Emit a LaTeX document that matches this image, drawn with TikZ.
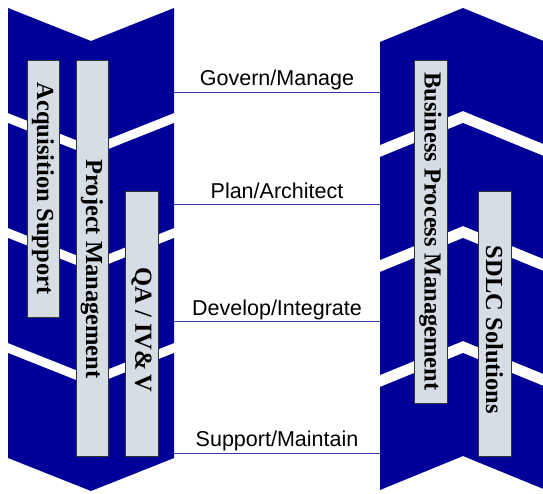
\documentclass[tikz,border=0pt]{standalone}
\usepackage{fontspec}
\setmainfont{Liberation Serif}
\newfontfamily\labelfont{Liberation Sans}
\definecolor{navy}{HTML}{000099}
\definecolor{linkblue}{HTML}{3838A8}
\definecolor{boxfill}{HTML}{D6DDE5}
\definecolor{boxline}{HTML}{333333}
\tikzset{
  chev/.style={fill=navy, draw=none},
  bar/.style={draw=boxline, line width=1pt, fill=boxfill, inner sep=0pt, rotate=-90,
    font=\fontsize{24.5}{26}\selectfont\bfseries, text=black},
  link/.style={draw=linkblue, line width=0.9pt},
  lab/.style={font=\labelfont\fontsize{21.5}{24}\selectfont, anchor=base, inner sep=0pt, text=black}
}
\begin{document}
\begin{tikzpicture}[x=1pt,y=-1pt]
\useasboundingbox (0,0) rectangle (543,493);
\clip (0,0) rectangle (543,493);
% left column: chevrons pointing down
\foreach \i in {0,1,2,3}{
  \pgfmathsetmacro{\t}{8+115*\i}
  \fill[chev] (8,\t) -- (91,\t+33) -- (174,\t) -- (174,\t+105) -- (91,\t+138) -- (8,\t+105) -- cycle;
}
% right column: chevrons pointing up
\foreach \i in {0,1,2,3}{
  \pgfmathsetmacro{\t}{42+115*\i}
  \fill[chev] (380,\t) -- (463,\t-34) -- (546,\t) -- (546,\t+103) -- (463,\t+69) -- (380,\t+103) -- cycle;
}
% bars
\node[bar, minimum width=257, minimum height=32] (acq) at (43,188.5) {Acquisition Support};
\node[bar, minimum width=396, minimum height=32] (pm) at (92,258) {\hspace*{22pt}Project Management};
\node[bar, minimum width=265, minimum height=33] (qa) at (141.5,323.5) {\hspace*{13pt}QA / IV\&\,V};
\node[bar, minimum width=343, minimum height=33] (bpm) at (430.5,231.5) {Business Process Management};
\node[bar, minimum width=265, minimum height=33] (sdlc) at (494.5,323.5) {\hspace*{13pt}SDLC Solutions};
% connectors
\coordinate (L1) at (174,92);  \coordinate (R1) at (380,92);
\coordinate (L2) at (174,204); \coordinate (R2) at (380,204);
\coordinate (L3) at (174,321); \coordinate (R3) at (380,321);
\coordinate (L4) at (174,453); \coordinate (R4) at (380,453);
\draw[link] (L1) -- (R1) node[lab, midway, yshift=7pt] (t1) {Govern/Manage};
\draw[link] (L2) -- (R2) node[lab, midway, yshift=6pt] (t2) {Plan/Architect};
\draw[link] (L3) -- (R3) node[lab, midway, yshift=6pt] (t3) {Develop/Integrate};
\draw[link] (L4) -- (R4) node[lab, midway, yshift=7pt] (t4) {Support/Maintain};
\end{tikzpicture}
\end{document}
